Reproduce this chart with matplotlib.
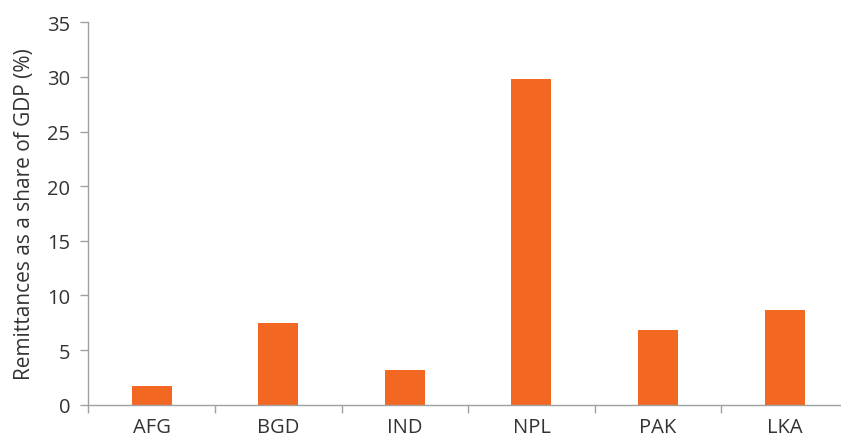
import numpy as np
import matplotlib.pyplot as plt
from matplotlib.ticker import FixedLocator, NullFormatter, FixedFormatter

countries = ["AFG", "BGD", "IND", "NPL", "PAK", "LKA"]
remittances = [1.7, 7.5, 3.2, 29.8, 6.8, 8.7]
y_ticks = [0, 5, 10, 15, 20, 25, 30, 35]

plt.rcParams["font.family"] = ["Open Sans", "DejaVu Sans"]

W, H = 841, 439
fig = plt.figure(figsize=(W / 100, H / 100), dpi=100)
left, right, bottom, top = 88.3, 848.0, 405.7, 23.3
ax = fig.add_axes([left / W, (H - bottom) / H, (right - left) / W, (bottom - top) / H])

x = np.arange(len(countries))
ax.bar(x, remittances, width=0.316, color="#F26722")

ax.set_xlim(-0.5, len(countries) - 0.5)
ax.set_ylim(0, 35)
ax.set_yticks(y_ticks)

# category labels at centres, tick marks at boundaries
ax.xaxis.set_major_locator(FixedLocator(np.arange(len(countries) + 1) - 0.5))
ax.xaxis.set_major_formatter(NullFormatter())
ax.xaxis.set_minor_locator(FixedLocator(x))
ax.xaxis.set_minor_formatter(FixedFormatter(countries))
ax.tick_params(axis="x", which="minor", length=0, pad=9, labelsize=14.5, labelcolor="#333333")
ax.tick_params(axis="x", which="major", length=6, width=1, color="#a0a0a0")
ax.tick_params(axis="y", length=6, width=1, color="#a0a0a0", pad=7,
               labelsize=14.5, labelcolor="#333333")

for s in ["top", "right"]:
    ax.spines[s].set_visible(False)
for s in ["left", "bottom"]:
    ax.spines[s].set_color("#a0a0a0")
    ax.spines[s].set_linewidth(1)

ax.set_ylabel("Remittances as a share of GDP (%)", fontsize=15, color="#333333", labelpad=9)

fig.savefig("out.png", dpi=100)
